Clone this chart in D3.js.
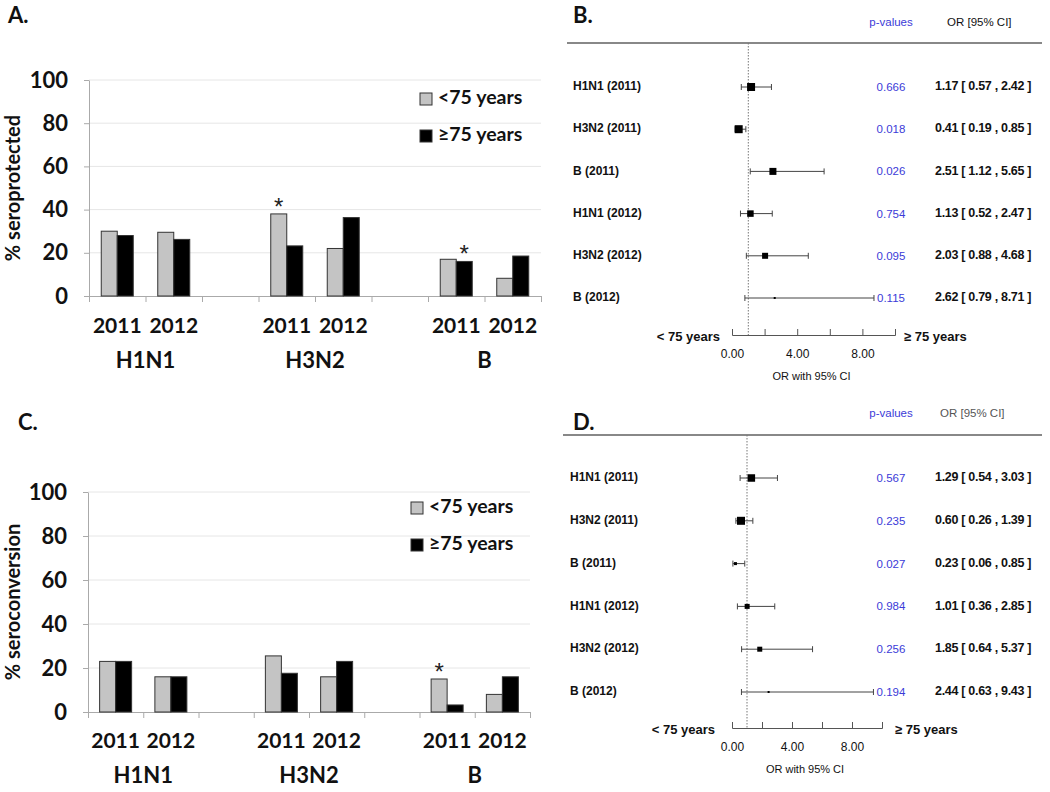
<!DOCTYPE html>
<html>
<head>
<meta charset="utf-8">
<script src="https://cdn.jsdelivr.net/npm/d3@7"></script>
<style>
  body { margin: 0; background: #fff; }
  svg { display: block; }
</style>
</head>
<body>
<svg id="fig" width="1050" height="792"></svg>
<script>
// ---- data ----
var strains = ["H1N1", "H3N2", "B"];
var years = ["2011", "2012"];
var ageGroups = ["<75 years", "\u226575 years"];

// % seroprotected (panel A), order H1N1 11/12, H3N2 11/12, B 11/12
var protYoung = [30, 29.5, 38, 22, 17, 8.2];
var protOld   = [28, 26.2, 23.2, 36.3, 16, 18.5];
var protStars = [{row: 2, age: 0}, {row: 4, age: 1}];

// % seroconversion (panel C)
var convYoung = [23, 16, 25.5, 16, 15, 8];
var convOld   = [23, 16, 17.6, 23, 3.2, 16];
var convStars = [{row: 4, age: 0}];

// forest plot rows
var rowLabels = ["H1N1 (2011)", "H3N2 (2011)", "B (2011)", "H1N1 (2012)", "H3N2 (2012)", "B (2012)"];

// panel B (seroprotection OR)
var orB = [1.17, 0.41, 2.51, 1.13, 2.03, 2.62];
var loB = [0.57, 0.19, 1.12, 0.52, 0.88, 0.79];
var hiB = [2.42, 0.85, 5.65, 2.47, 4.68, 8.71];
var pB  = ["0.666", "0.018", "0.026", "0.754", "0.095", "0.115"];
var wB  = [8, 8, 7, 6.5, 6, 2];

// panel D (seroconversion OR)
var orD = [1.29, 0.60, 0.23, 1.01, 1.85, 2.44];
var loD = [0.54, 0.26, 0.06, 0.36, 0.64, 0.63];
var hiD = [3.03, 1.39, 0.85, 2.85, 5.37, 9.43];
var pD  = ["0.567", "0.235", "0.027", "0.984", "0.256", "0.194"];
var wD  = [7.5, 8, 3, 5, 5, 2];

var orTicks = [0, 2, 4, 6, 8, 10];
var pctTicks = [0, 20, 40, 60, 80, 100];

var svg = d3.select("#fig");
var barFont = "Lato, 'Open Sans', sans-serif";
var forestFont = "'Liberation Sans', Arial, sans-serif";

/**
 *  Grouped bar chart (panels A and C).
 **/
function drawBars(o) {
  var g = svg.append("g");

  // 8 slots: 2 years per strain, with an empty slot between strains
  var slotOf = function(i) { return Math.floor(i / 2) * 3 + (i % 2); };
  var xs = d3.scaleLinear().domain([0, 8]).range([o.x0, o.x1]);
  var y = d3.scaleLinear().domain([0, 100]).range([o.y0, o.y1]);
  var barW = 16;

  // grid
  g.selectAll(".grid").data(pctTicks.slice(1)).enter().append("line")
    .attr("x1", o.x0).attr("x2", o.x1)
    .attr("y1", function(d) { return y(d); }).attr("y2", function(d) { return y(d); })
    .attr("stroke", "#e6e6e6").attr("stroke-width", 1);

  // y axis
  var yAxis = d3.axisLeft(y).tickValues(pctTicks).tickSize(5).tickPadding(16).tickSizeOuter(0);
  var ya = g.append("g").attr("transform", "translate(" + o.x0 + ",0)").call(yAxis);
  ya.select(".domain").attr("stroke", "#aaa");
  ya.selectAll(".tick line").attr("stroke", "#aaa");
  ya.selectAll("text").attr("font-family", barFont).attr("font-weight", "bold")
    .attr("font-size", 22).attr("fill", "#111");

  // x axis with boundary ticks
  var xAxis = d3.axisBottom(xs).tickValues(d3.range(9)).tickFormat("").tickSize(6).tickSizeOuter(0);
  var xa = g.append("g").attr("transform", "translate(0," + o.y0 + ")").call(xAxis);
  xa.select(".domain").attr("stroke", "#aaa");
  xa.selectAll(".tick line").attr("stroke", "#aaa");

  var rows = d3.range(6).map(function(i) {
    return {i: i, slot: slotOf(i), vals: [o.young[i], o.old[i]]};
  });

  var bars = [];
  rows.forEach(function(r) {
    r.vals.forEach(function(v, a) {
      bars.push({slot: r.slot, age: a, v: v, row: r.i});
    });
  });

  g.selectAll(".bar").data(bars).enter().append("rect")
    .attr("x", function(d) { return xs(d.slot + 0.5) - barW + d.age * barW; })
    .attr("y", function(d) { return y(d.v); })
    .attr("width", barW)
    .attr("height", function(d) { return y(0) - y(d.v); })
    .attr("fill", function(d) { return d.age === 0 ? "#c4c4c4" : "#000"; })
    .attr("stroke", "#333").attr("stroke-width", 1);

  // significance stars
  g.selectAll(".star").data(o.stars).enter().append("text")
    .attr("x", function(d) { return xs(slotOf(d.row) + 0.5) - barW / 2 + d.age * barW; })
    .attr("y", function(d) { return y(d.age === 0 ? o.young[d.row] : o.old[d.row]) + 1; })
    .attr("text-anchor", "middle")
    .attr("font-family", forestFont).attr("font-size", 24).attr("fill", "#222")
    .text("*");

  // year labels
  g.selectAll(".yr").data(rows).enter().append("text")
    .attr("x", function(d) { return xs(d.slot + 0.5); })
    .attr("y", o.yearY)
    .attr("text-anchor", "middle").attr("dominant-baseline", "middle")
    .attr("font-family", barFont).attr("font-weight", "bold").attr("font-size", 21).attr("fill", "#111")
    .text(function(d) { return years[d.i % 2]; });

  // strain labels
  g.selectAll(".strain").data(strains).enter().append("text")
    .attr("x", function(d, i) { return xs(i * 3 + 1); })
    .attr("y", o.strainY)
    .attr("text-anchor", "middle").attr("dominant-baseline", "middle")
    .attr("font-family", barFont).attr("font-weight", "bold").attr("font-size", 22).attr("fill", "#111")
    .text(function(d) { return d; });

  // y label
  g.append("text")
    .attr("transform", "translate(" + o.labelX + "," + (o.y0 + o.y1) / 2 + ") rotate(-90)")
    .attr("text-anchor", "middle").attr("dominant-baseline", "middle")
    .attr("font-family", barFont).attr("font-weight", "bold").attr("font-size", 20).attr("fill", "#111")
    .text(o.ylabel);

  // legend
  var leg = g.selectAll(".leg").data(ageGroups).enter().append("g")
    .attr("transform", function(d, i) { return "translate(" + o.legX + "," + (o.legY + i * 37) + ")"; });
  leg.append("rect").attr("x", 0).attr("y", -6).attr("width", 12).attr("height", 12)
    .attr("fill", function(d, i) { return i === 0 ? "#c4c4c4" : "#000"; })
    .attr("stroke", "#333");
  leg.append("text").attr("x", 18).attr("y", 0).attr("dominant-baseline", "middle")
    .attr("font-family", barFont).attr("font-weight", "bold").attr("font-size", 19.5).attr("fill", "#111")
    .text(function(d) { return d; });

  // panel letter
  svg.append("text").attr("x", o.letterX).attr("y", o.letterY)
    .attr("font-family", barFont).attr("font-weight", "bold").attr("font-size", 22).attr("fill", "#111")
    .text(o.letter);
}

/**
 *  Forest plot (panels B and D).
 **/
function drawForest(o) {
  var g = svg.append("g");
  var x = d3.scaleLinear().domain([0, 10]).range([732, o.xEnd]);
  var y = d3.scalePoint().domain(rowLabels).range([o.rowTop, o.rowBottom]);

  // header
  svg.append("text").attr("x", 573).attr("y", o.letterY)
    .attr("font-family", barFont).attr("font-weight", "bold").attr("font-size", 22).attr("fill", "#111")
    .text(o.letter);
  g.append("text").attr("x", 891).attr("y", o.headY).attr("text-anchor", "middle")
    .attr("dominant-baseline", "middle")
    .attr("font-family", forestFont).attr("font-size", 11.5).attr("fill", "#3b3bd8")
    .text("p-values");
  g.append("text").attr("x", o.orHeadX).attr("y", o.headY).attr("dominant-baseline", "middle")
    .attr("font-family", forestFont).attr("font-size", 11.5).attr("fill", o.orHeadColor)
    .text("OR  [95% CI]");
  g.append("line").attr("x1", o.lineX0).attr("x2", 1042)
    .attr("y1", o.lineY).attr("y2", o.lineY)
    .attr("stroke", "#888").attr("stroke-width", 2);

  // reference line at OR = 1
  g.append("line").attr("x1", x(1)).attr("x2", x(1))
    .attr("y1", o.lineY).attr("y2", o.axisY)
    .attr("stroke", "#777").attr("stroke-width", 1).attr("stroke-dasharray", "1.5,1.5");

  var rows = rowLabels.map(function(l, i) {
    return {label: l, or: o.or[i], lo: o.lo[i], hi: o.hi[i], p: o.p[i], w: o.w[i]};
  });

  var r = g.selectAll(".row").data(rows).enter().append("g")
    .attr("transform", function(d) { return "translate(0," + y(d.label) + ")"; });

  r.append("text").attr("x", o.labelX).attr("y", 0).attr("dominant-baseline", "middle")
    .attr("font-family", forestFont).attr("font-weight", "bold").attr("font-size", 12).attr("fill", "#111")
    .text(function(d) { return d.label; });

  r.append("line")
    .attr("x1", function(d) { return x(d.lo); }).attr("x2", function(d) { return x(d.hi); })
    .attr("stroke", "#444").attr("stroke-width", 1);
  r.selectAll(".cap").data(function(d) { return [d.lo, d.hi]; }).enter().append("line")
    .attr("x1", function(d) { return x(d); }).attr("x2", function(d) { return x(d); })
    .attr("y1", -3).attr("y2", 3)
    .attr("stroke", "#444").attr("stroke-width", 1);
  r.append("rect")
    .attr("x", function(d) { return x(d.or) - d.w / 2; })
    .attr("y", function(d) { return -Math.min(d.w, 8) / 2; })
    .attr("width", function(d) { return d.w; })
    .attr("height", function(d) { return Math.min(d.w, 8); })
    .attr("fill", "#000");

  r.append("text").attr("x", 891).attr("y", 1).attr("text-anchor", "middle")
    .attr("dominant-baseline", "middle")
    .attr("font-family", forestFont).attr("font-size", 11.5).attr("fill", "#3b3bd8")
    .text(function(d) { return d.p; });
  r.append("text").attr("x", 935).attr("y", 0).attr("dominant-baseline", "middle")
    .attr("font-family", forestFont).attr("font-weight", "bold").attr("font-size", 12.5).attr("fill", "#111")
    .attr("letter-spacing", "-0.3")
    .text(function(d) {
      return d.or.toFixed(2) + " [ " + d.lo.toFixed(2) + " , " + d.hi.toFixed(2) + " ]";
    });

  // OR axis, ticks pointing up
  var axis = d3.axisBottom(x).tickValues(orTicks)
    .tickFormat(function(d) { return d % 4 === 0 ? d3.format(".2f")(d) : ""; })
    .tickSizeInner(-6).tickSizeOuter(-6).tickPadding(14);
  var ax = g.append("g").attr("transform", "translate(0," + o.axisY + ")").call(axis);
  ax.select(".domain").attr("stroke", "#555");
  ax.selectAll(".tick line").attr("stroke", "#555");
  ax.selectAll("text").attr("font-family", forestFont).attr("font-size", 12).attr("fill", "#111");

  g.append("text").attr("x", (x(0) + x(10)) / 2 - 2).attr("y", o.axisY + 42)
    .attr("text-anchor", "middle").attr("dominant-baseline", "middle")
    .attr("font-family", forestFont).attr("font-size", 11).attr("fill", "#111")
    .text("OR with 95% CI");
  g.append("text").attr("x", o.leftEnd).attr("y", o.axisY + 3)
    .attr("text-anchor", "end").attr("dominant-baseline", "middle")
    .attr("font-family", forestFont).attr("font-weight", "bold").attr("font-size", 13).attr("fill", "#111")
    .text("< 75 years");
  g.append("text").attr("x", o.rightStart).attr("y", o.axisY + 3)
    .attr("dominant-baseline", "middle")
    .attr("font-family", forestFont).attr("font-weight", "bold").attr("font-size", 13).attr("fill", "#111")
    .text("\u2265 75 years");
}

drawBars({
  x0: 89, x1: 541, y0: 296, y1: 80,
  young: protYoung, old: protOld, stars: protStars,
  yearY: 328, strainY: 362, labelX: 15, ylabel: "% seroprotected",
  legX: 420, legY: 99, letter: "A.", letterX: 8, letterY: 23
});

drawBars({
  x0: 88, x1: 530, y0: 712, y1: 492,
  young: convYoung, old: convOld, stars: convStars,
  yearY: 743, strainY: 777, labelX: 15, ylabel: "% seroconversion",
  legX: 411, legY: 508, letter: "C.", letterX: 18, letterY: 430
});

drawForest({
  or: orB, lo: loB, hi: hiB, p: pB, w: wB,
  xEnd: 895, rowTop: 87, rowBottom: 298,
  letter: "B.", letterY: 23, headY: 23, orHeadX: 947, orHeadColor: "#111",
  lineX0: 567, lineY: 43, labelX: 573, axisY: 335, leftEnd: 720, rightStart: 904
});

drawForest({
  or: orD, lo: loD, hi: hiD, p: pD, w: wD,
  xEnd: 882, rowTop: 478, rowBottom: 692,
  letter: "D.", letterY: 430, headY: 414, orHeadX: 940, orHeadColor: "#555",
  lineX0: 563, lineY: 435, labelX: 570, axisY: 728, leftEnd: 715, rightStart: 895
});
</script>
</body>
</html>
